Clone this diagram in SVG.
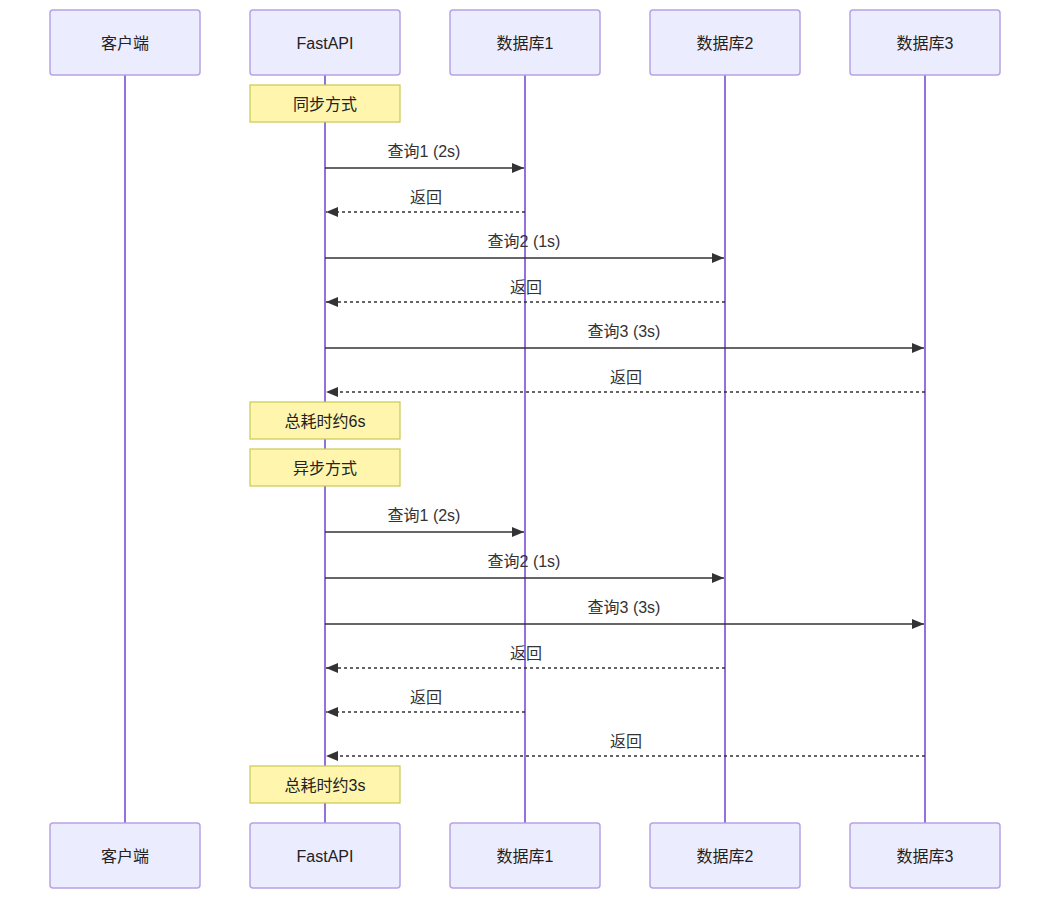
<svg xmlns="http://www.w3.org/2000/svg" width="1050" height="899" viewBox="0 0 1050 899">
<style>
text{font-family:"Liberation Sans","Noto Sans CJK SC",Arial,sans-serif;font-size:16px;text-anchor:middle;fill:#333;}
.actor rect{fill:#ECECFF;stroke:#b7a3e3;stroke-width:1.5;}
.actor text{fill:#222;dominant-baseline:central;}
.life{stroke:#9370DB;stroke-width:2;}
.note rect{fill:#fff5ad;stroke:#c8c850;stroke-width:1.2;}
.note text{fill:#222;dominant-baseline:central;}
.msg{stroke:#333;stroke-width:1.5;fill:none;}
.dash{stroke-dasharray:3,3;}
</style>
<defs>
<marker id="ah" viewBox="0 0 12 10" refX="12" refY="5" markerWidth="12" markerHeight="10" markerUnits="userSpaceOnUse" orient="auto">
<path d="M0,0 L12,5 L0,10 z" fill="#333"/>
</marker>
</defs>
<g id="lifelines">
<line class="life" x1="125" y1="75" x2="125" y2="823"/>
<line class="life" x1="325" y1="75" x2="325" y2="823"/>
<line class="life" x1="525" y1="75" x2="525" y2="823"/>
<line class="life" x1="725" y1="75" x2="725" y2="823"/>
<line class="life" x1="925" y1="75" x2="925" y2="823"/>
</g>
<g id="actor-client-top" class="actor"><rect x="50" y="10" width="150" height="65" rx="3"/><text x="125" y="43">客户端</text></g>
<g id="actor-fastapi-top" class="actor"><rect x="250" y="10" width="150" height="65" rx="3"/><text x="325" y="43">FastAPI</text></g>
<g id="actor-db1-top" class="actor"><rect x="450" y="10" width="150" height="65" rx="3"/><text x="525" y="43">数据库1</text></g>
<g id="actor-db2-top" class="actor"><rect x="650" y="10" width="150" height="65" rx="3"/><text x="725" y="43">数据库2</text></g>
<g id="actor-db3-top" class="actor"><rect x="850" y="10" width="150" height="65" rx="3"/><text x="925" y="43">数据库3</text></g>
<g id="actor-client-bottom" class="actor"><rect x="50" y="823" width="150" height="65" rx="3"/><text x="125" y="856">客户端</text></g>
<g id="actor-fastapi-bottom" class="actor"><rect x="250" y="823" width="150" height="65" rx="3"/><text x="325" y="856">FastAPI</text></g>
<g id="actor-db1-bottom" class="actor"><rect x="450" y="823" width="150" height="65" rx="3"/><text x="525" y="856">数据库1</text></g>
<g id="actor-db2-bottom" class="actor"><rect x="650" y="823" width="150" height="65" rx="3"/><text x="725" y="856">数据库2</text></g>
<g id="actor-db3-bottom" class="actor"><rect x="850" y="823" width="150" height="65" rx="3"/><text x="925" y="856">数据库3</text></g>
<g id="note-sync" class="note"><rect x="250" y="85" width="150" height="37"/><text x="325" y="104">同步方式</text></g>
<g id="note-6s" class="note"><rect x="250" y="402" width="150" height="37"/><text x="325" y="421">总耗时约6s</text></g>
<g id="note-async" class="note"><rect x="250" y="449" width="150" height="37"/><text x="325" y="468">异步方式</text></g>
<g id="note-3s" class="note"><rect x="250" y="766" width="150" height="37"/><text x="325" y="785">总耗时约3s</text></g>
<g id="connectors">
<line class="msg" x1="325" y1="168" x2="524" y2="168" marker-end="url(#ah)"/>
<text x="424" y="157">查询1 (2s)</text>
<line class="msg dash" x1="525" y1="212" x2="326" y2="212" marker-end="url(#ah)"/>
<text x="426" y="203">返回</text>
<line class="msg" x1="325" y1="258" x2="724" y2="258" marker-end="url(#ah)"/>
<text x="524" y="247">查询2 (1s)</text>
<line class="msg dash" x1="725" y1="302" x2="326" y2="302" marker-end="url(#ah)"/>
<text x="526" y="293">返回</text>
<line class="msg" x1="325" y1="348" x2="924" y2="348" marker-end="url(#ah)"/>
<text x="624" y="337">查询3 (3s)</text>
<line class="msg dash" x1="925" y1="392" x2="326" y2="392" marker-end="url(#ah)"/>
<text x="626" y="383">返回</text>
<line class="msg" x1="325" y1="532" x2="524" y2="532" marker-end="url(#ah)"/>
<text x="424" y="521">查询1 (2s)</text>
<line class="msg" x1="325" y1="578" x2="724" y2="578" marker-end="url(#ah)"/>
<text x="524" y="567">查询2 (1s)</text>
<line class="msg" x1="325" y1="624" x2="924" y2="624" marker-end="url(#ah)"/>
<text x="624" y="613">查询3 (3s)</text>
<line class="msg dash" x1="725" y1="668" x2="326" y2="668" marker-end="url(#ah)"/>
<text x="526" y="659">返回</text>
<line class="msg dash" x1="525" y1="712" x2="326" y2="712" marker-end="url(#ah)"/>
<text x="426" y="703">返回</text>
<line class="msg dash" x1="925" y1="756" x2="326" y2="756" marker-end="url(#ah)"/>
<text x="626" y="747">返回</text>
</g>
</svg>
